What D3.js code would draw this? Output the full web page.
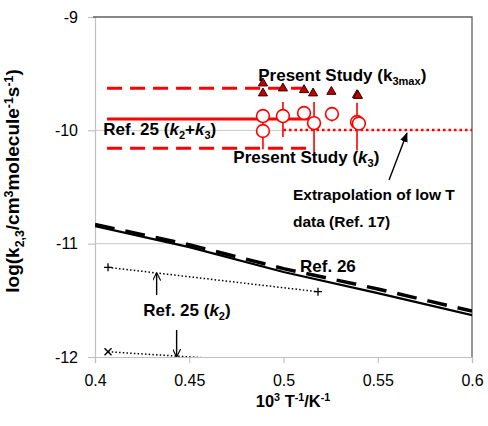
<!DOCTYPE html>
<html><head><meta charset="utf-8">
<script src="https://cdn.jsdelivr.net/npm/d3@7"></script>
<style>
body{margin:0;background:#fff;}
svg{display:block;font-family:"Liberation Sans",Arial,sans-serif;}
</style></head><body>
<svg id="c" width="488" height="426"></svg>
<script>
// ---- data ----
const xTicks = [0.4, 0.45, 0.5, 0.55, 0.6];
const yTicks = [-12, -11, -10, -9];
// Present study k3 (circles) with asymmetric error bars
const k3X    = [0.4891, 0.4891, 0.4997, 0.5109, 0.5162, 0.5257, 0.5390, 0.5400];
const k3Y    = [-9.874, -10.006, -9.874, -9.847, -9.936, -9.856, -9.927, -9.940];
const k3Up   = [0.00, 0.13, 0.124, 0.03, 0.185, 0.03, 0.17, 0.00];
const k3Down = [0.00, 0.16, 0.185, 0.045, 0.35, 0.065, 0.25, 0.00];
// Present study k3max (triangles)
const kmaxX = [0.4891, 0.4891, 0.4997, 0.5109, 0.5157, 0.5254, 0.5390, 0.5395];
const kmaxY = [-9.585, -9.673, -9.629, -9.644, -9.673, -9.659, -9.688, -9.695];
// Ref. 25 (k2+k3): central value and +/- band
const ref25sumX = [0.4064, 0.5157];
const ref25sumY = -9.900;
const ref25sumUpper = -9.629;
const ref25sumLower = -10.159;
// Extrapolation of low-T data (Ref. 17)
const extrapX = [0.5, 0.6];
const extrapY = [-9.997, -9.997];
// Ref. 26 (solid) and its companion (dashed)
const ref26X = [0.4, 0.45, 0.5, 0.55, 0.6];
const ref26Solid  = [-10.845, -11.03, -11.25, -11.436, -11.63];
const ref26Dashed = [-10.83, -11.01, -11.22, -11.40, -11.595];
// Ref. 25 (k2): two branches
const ref25k2aX = [0.4069, 0.5183];
const ref25k2aY = [-11.209, -11.424];
const ref25k2bX = [0.4069, 0.5183];
const ref25k2bY = [-11.954, -12.07];

// ---- layout ----
const svg = d3.select("#c");
const L = 95, R = 472, T = 17, B = 357;
const x = d3.scaleLinear().domain([0.4, 0.6]).range([L, R]);
const y = d3.scaleLinear().domain([-12, -9]).range([B, T]);
const RED = "#ff0000";

const defs = svg.append("defs");
defs.append("clipPath").attr("id","clip")
  .append("rect").attr("x",L).attr("y",T).attr("width",R-L).attr("height",B-T);
defs.append("marker").attr("id","ahFill")
  .attr("viewBox","0 0 10 10").attr("refX",9).attr("refY",5)
  .attr("markerWidth",7).attr("markerHeight",7).attr("orient","auto")
  .append("path").attr("d","M0,1 L10,5 L0,9 Z").attr("fill","#000");
defs.append("marker").attr("id","ahOpen")
  .attr("viewBox","0 0 10 10").attr("refX",9.5).attr("refY",5)
  .attr("markerWidth",8).attr("markerHeight",8).attr("orient","auto")
  .attr("markerUnits","userSpaceOnUse")
  .append("path").attr("d","M0,0 L10,5 L0,10").attr("fill","none").attr("stroke","#000").attr("stroke-width",1.4);

// gridlines
svg.append("g").selectAll("line").data([-11,-10]).join("line")
  .attr("x1",L).attr("x2",R).attr("y1",d=>y(d)).attr("y2",d=>y(d))
  .attr("stroke","#c8c8c8").attr("stroke-width",1);

// axes
const yAx = svg.append("g").attr("transform",`translate(${L},0)`)
  .call(d3.axisLeft(y).tickValues(yTicks).tickSize(7).tickPadding(10).tickFormat(d=>String(d)));
const xAx = svg.append("g").attr("transform",`translate(0,${B})`)
  .call(d3.axisBottom(x).tickValues(xTicks).tickSize(6).tickPadding(12).tickFormat(d=>String(+d.toFixed(2))));
[yAx,xAx].forEach(g=>{
  g.select(".domain").attr("stroke","#c0c0c0").attr("stroke-width",1.2);
  g.selectAll(".tick line").attr("stroke","#c0c0c0").attr("stroke-width",1.2);
  g.selectAll(".tick text").attr("fill","#000").style("font-size","16px").style("font-family","'Liberation Sans',Arial,sans-serif");
});
// top & right border
svg.append("path").attr("d",`M${L-2},${T} H${R} V${B}`).attr("fill","none").attr("stroke","#606060").attr("stroke-width",1.3);

const plot = svg.append("g").attr("clip-path","url(#clip)");
const line = d3.line().x(d=>x(d[0])).y(d=>y(d[1]));

// Ref 26 lines
plot.append("path").attr("d",line(d3.zip(ref26X,ref26Solid)))
  .attr("fill","none").attr("stroke","#000").attr("stroke-width",2.2);
plot.append("path").attr("d",line(d3.zip(ref26X,ref26Dashed)))
  .attr("fill","none").attr("stroke","#000").attr("stroke-width",3.5).attr("stroke-dasharray","20,11");

// Ref 25 (k2) dotted lines with markers
plot.append("path").attr("d",line(d3.zip(ref25k2aX,ref25k2aY)))
  .attr("fill","none").attr("stroke","#000").attr("stroke-width",1.5).attr("stroke-dasharray","1.5,2.2");
plot.append("path").attr("d",line(d3.zip(ref25k2bX,ref25k2bY)))
  .attr("fill","none").attr("stroke","#000").attr("stroke-width",1.5).attr("stroke-dasharray","1.5,2.2");
plot.selectAll(".plus").data(d3.zip(ref25k2aX,ref25k2aY)).join("path")
  .attr("d",d=>`M${x(d[0])-4},${y(d[1])} h8 M${x(d[0])},${y(d[1])-4} v8`)
  .attr("stroke","#000").attr("stroke-width",1.3);
plot.selectAll(".cross").data(d3.zip(ref25k2bX,ref25k2bY)).join("path")
  .attr("d",d=>`M${x(d[0])-3.5},${y(d[1])-3.5} l7,7 M${x(d[0])+3.5},${y(d[1])-3.5} l-7,7`)
  .attr("stroke","#000").attr("stroke-width",1.4);

// Ref 25 (k2+k3) band
plot.append("path").attr("d",line(ref25sumX.map(v=>[v,ref25sumY])))
  .attr("stroke",RED).attr("stroke-width",3);
[ref25sumUpper, ref25sumLower].forEach(v=>{
  plot.append("path").attr("d",line(ref25sumX.map(u=>[u,v])))
    .attr("stroke",RED).attr("stroke-width",3).attr("stroke-dasharray","15,8");
});
// Extrapolation dotted
plot.append("path").attr("d",line(d3.zip(extrapX,extrapY)))
  .attr("stroke",RED).attr("stroke-width",2.5).attr("stroke-dasharray","2.5,3");

// error bars
const k3 = k3X.map((v,i)=>({x:v,y:k3Y[i],up:k3Up[i],dn:k3Down[i]}));
plot.selectAll(".eb").data(k3).join("line")
  .attr("x1",d=>x(d.x)).attr("x2",d=>x(d.x))
  .attr("y1",d=>y(d.y+d.up)).attr("y2",d=>y(d.y-d.dn))
  .attr("stroke",RED).attr("stroke-width",1.6);
plot.selectAll(".k3").data(k3).join("circle")
  .attr("cx",d=>x(d.x)).attr("cy",d=>y(d.y)).attr("r",6.4)
  .attr("fill","#fff").attr("stroke",RED).attr("stroke-width",1.6);
// triangles
plot.selectAll(".tri").data(d3.zip(kmaxX,kmaxY)).join("path")
  .attr("d",d3.symbol().type(d3.symbolTriangle).size(36))
  .attr("transform",d=>`translate(${x(d[0])},${y(d[1])})`)
  .attr("fill","#c00000").attr("stroke","#300").attr("stroke-width",1);

// ---- text helper: no empty tspans; the baseline offset is undone on the next segment ----
function rich(g, px, py, segs, size, supShift){
  const sh = supShift || 0.38;
  const t = g.append("text").attr("x",px).attr("y",py)
    .attr("font-weight","bold").attr("font-size",size).attr("fill","#000");
  let pending = 0;
  segs.forEach(s=>{
    const o = typeof s==="string" ? {t:s} : s;
    const ts = t.append("tspan").text(o.t);
    let dy = pending; pending = 0;
    if(o.i) ts.attr("font-style","italic");
    if(o.sub){ ts.attr("font-size",size*0.65); dy += size*0.25; pending = -size*0.25; }
    if(o.sup){ ts.attr("font-size",size*0.65); dy += -size*sh; pending = size*sh; }
    if(dy!==0) ts.attr("dy",dy);
  });
  return t;
}

// annotations (data coords)
rich(svg, x(0.4044), y(-10.041), ["Ref. 25 (",{t:"k",i:1},{t:"2",sub:1},"+",{t:"k",i:1},{t:"3",sub:1},")"], 17);
rich(svg, x(0.4866), y(-9.562), ["Present Study (k",{t:"3max",sub:1},")"], 17);
rich(svg, x(0.4734), y(-10.286), ["Present Study (",{t:"k",i:1},{t:"3",sub:1},")"], 17);
rich(svg, x(0.505), y(-10.615), ["Extrapolation of low T"], 15.5);
rich(svg, x(0.505), y(-10.850), ["data (Ref. 17)"], 15.5);
rich(svg, x(0.5088), y(-11.247), ["Ref. 26"], 17);
rich(svg, x(0.4256), y(-11.634), ["Ref. 25 (",{t:"k",i:1},{t:"2",sub:1},")"], 17);

// arrows
svg.append("line").attr("x1",x(0.556)).attr("y1",y(-10.438)).attr("x2",x(0.5655)).attr("y2",y(-10.024))
  .attr("stroke","#000").attr("stroke-width",1.4).attr("marker-end","url(#ahFill)");
svg.append("line").attr("x1",x(0.4327)).attr("y1",y(-11.453)).attr("x2",x(0.4327)).attr("y2",y(-11.259))
  .attr("stroke","#000").attr("stroke-width",1.4).attr("marker-end","url(#ahOpen)");
svg.append("line").attr("x1",x(0.4433)).attr("y1",y(-11.762)).attr("x2",x(0.4433)).attr("y2",y(-11.997))
  .attr("stroke","#000").attr("stroke-width",1.4).attr("marker-end","url(#ahOpen)");

// axis titles
const xt = rich(svg, 293, 407, ["10",{t:"3",sup:1}," T",{t:"-1",sup:1},"/K",{t:"-1",sup:1}], 16.5);
xt.attr("text-anchor","middle");
const yt = rich(svg, 0, 0, ["log(k",{t:"2,3",sub:1},"/cm",{t:"3",sup:1},"molecule",{t:"-1",sup:1},"s",{t:"-1",sup:1},")"], 19, 0.32);
yt.attr("text-anchor","middle").attr("transform","translate(19,181) rotate(-90)");
</script>
</body></html>
